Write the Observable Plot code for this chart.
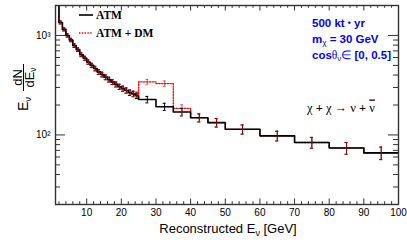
<!DOCTYPE html>
<html><head><meta charset="utf-8">
<script src="https://cdn.jsdelivr.net/npm/d3@7"></script>
<script src="https://cdn.jsdelivr.net/npm/@observablehq/plot@0.6"></script>
<style>body{margin:0;background:#fff;} svg{display:block;}</style>
</head><body><div id="chart"></div>
<script>
// Bin edges (GeV)
const binEdges = [1,2,3,4,5,6,7,8,9,10,11,12,13,14,15,16,17,18,19,20,21,22,23,24,25,30,35,40,45,50,60,70,80,90,100];
// ATM only
const atmValues = [2300,1350,1150,1000,900,790,720,640,590,540,500,465,430,405,380,360,340,322,305,292,280,266,258,248,227,192,170,149,133,114,98,84,74,66];
const atmErrors = [60,45,40,38,35,32,30,28,27,26,25,24,23,22,21,20,19,18.5,18,17.5,17,16.5,16,16,17,16,15,14,13,12,11,10.5,10,9.5];
// ATM + DM
const dmValues = [2300,1350,1150,1000,900,790,720,640,590,540,500,465,430,405,380,360,340,322,305,292,280,268,262,254,341,328,185,149,133,114,98,84,74,66];
const dmErrors = [60,45,40,38,35,32,30,28,27,26,25,24,23,22,21,20,19,18.5,18,17.5,17,16.5,16.5,16.5,21,21,16,14,13,12,11,10.5,10,9.5];

const xTicks = [10,20,30,40,50,60,70,80,90,100];
const xMinorTicks = [2,4,6,8,12,14,16,18,22,24,26,28,32,34,36,38,42,44,46,48,52,54,56,58,62,64,66,68,72,74,76,78,82,84,86,88,92,94,96,98];
const yTicks = [100,1000];
const yTickLabels = ["10²","10³"];
const yMinorTicks = [30,40,50,60,70,80,90,200,300,400,500,600,700,800,900];

const steps = vals => vals.flatMap((v,i)=>[{x:binEdges[i],y:v},{x:binEdges[i+1],y:v}]);
const bars = (vals,errs) => vals.map((v,i)=>({x:(binEdges[i]+binEdges[i+1])/2,y:v,lo:v-errs[i],hi:v+errs[i]}));
const atmBars = bars(atmValues, atmErrors);
const dmBars = bars(dmValues, dmErrors);
const YMIN = 20, YMAX = 2000, XMIN = 1, XMAX = 100;

const errMarks = (data, color, op) => [
  Plot.ruleX(data, {x:"x", y1:"lo", y2:"hi", stroke:color, strokeOpacity:op, strokeWidth:1, clip:true}),
  Plot.ruleY(data, {y:"lo", x1:"x", x2:"x", insetLeft:-1.5, insetRight:-1.5, stroke:color, strokeOpacity:op, strokeWidth:1, clip:true}),
  Plot.ruleY(data, {y:"hi", x1:"x", x2:"x", insetLeft:-1.5, insetRight:-1.5, stroke:color, strokeOpacity:op, strokeWidth:1, clip:true})
];

const plot = Plot.plot({
  width: 407, height: 243,
  marginLeft: 55, marginRight: 9, marginTop: 5, marginBottom: 39,
  x: {domain: [XMIN, XMAX]},
  y: {type: "log", domain: [YMIN, YMAX]},
  style: {fontFamily: "'Liberation Sans', Arial, sans-serif", fontSize: "10px", color: "#000", background: "#fff"},
  marks: [
    Plot.line(steps(dmValues), {x:"x", y:"y", stroke:"#ff0000", strokeWidth:1.3, strokeDasharray:"1.4,1.4", clip:true}),
    Plot.line(steps(atmValues), {x:"x", y:"y", stroke:"#000", strokeWidth:1.6, clip:true}),
    ...errMarks(atmBars, "#000", 1),
    ...errMarks(dmBars, "#e00000", 0.6),
    // ticks (inward)
    Plot.ruleX(xTicks, {x:d=>d, y1:()=>YMIN, y2:()=>YMIN, insetBottom:5.5, stroke:"#333"}),
    Plot.ruleX(xMinorTicks, {x:d=>d, y1:()=>YMIN, y2:()=>YMIN, insetBottom:2.8, stroke:"#333"}),
    Plot.ruleX(xTicks, {x:d=>d, y1:()=>YMAX, y2:()=>YMAX, insetTop:5.5, stroke:"#333"}),
    Plot.ruleX(xMinorTicks, {x:d=>d, y1:()=>YMAX, y2:()=>YMAX, insetTop:2.8, stroke:"#333"}),
    Plot.ruleY(yTicks, {y:d=>d, x1:()=>XMIN, x2:()=>XMIN, insetRight:-10, stroke:"#333"}),
    Plot.ruleY(yMinorTicks, {y:d=>d, x1:()=>XMIN, x2:()=>XMIN, insetRight:-5, stroke:"#333"}),
    Plot.ruleY(yTicks, {y:d=>d, x1:()=>XMAX, x2:()=>XMAX, insetLeft:-10, stroke:"#333"}),
    Plot.ruleY(yMinorTicks, {y:d=>d, x1:()=>XMAX, x2:()=>XMAX, insetLeft:-5, stroke:"#333"}),
    Plot.axisX({ticks: xTicks, tickSize: 0, tickPadding: 4, fontSize: 10, label: null}),
    Plot.axisY({ticks: yTicks, tickSize: 0, tickPadding: 5, fontSize: 10, label: null,
      tickFormat: d => yTickLabels[yTicks.indexOf(d)]}),
    Plot.frame({stroke: "#333", strokeWidth: 1.4})
  ]
});
document.getElementById("chart").appendChild(plot);

const svg = d3.select(plot);
const sans = "'Liberation Sans', Arial, sans-serif";
const serif = "'Liberation Serif', 'Times New Roman', serif";

// X title
const xt = svg.append("text").attr("x", 228).attr("y", 233).attr("text-anchor","middle")
  .attr("font-family", sans).attr("font-size", 13).attr("fill","#000");
xt.append("tspan").text("Reconstructed E");
xt.append("tspan").attr("font-size", 9).attr("dy", 2.5).text("ν");
xt.append("tspan").attr("dy", -2.5).text(" [GeV]");

// Y title (rotated)
const yt = svg.append("g").attr("transform","translate(23.5,85) rotate(-90)")
  .attr("font-family", sans).attr("fill","#000");
const e1 = yt.append("text").attr("x",-26).attr("y",4.5).attr("font-size",14).attr("text-anchor","start");
e1.append("tspan").text("E");
e1.append("tspan").attr("font-size",9.5).attr("dy",2.5).text("ν");
yt.append("text").attr("x",7.5).attr("y",-1.5).attr("text-anchor","middle").attr("font-size",13).text("dN");
yt.append("line").attr("x1",-6).attr("x2",21).attr("y1",0).attr("y2",0).attr("stroke","#000").attr("stroke-width",1);
const den = yt.append("text").attr("x",7.5).attr("y",10.5).attr("text-anchor","middle").attr("font-size",13);
den.append("tspan").text("dE");
den.append("tspan").attr("font-size",8.5).attr("dy",2).text("ν");

// Legend
const lg = svg.append("g").attr("text-anchor","start");
lg.append("line").attr("x1",79).attr("x2",93).attr("y1",15).attr("y2",15).attr("stroke","#000").attr("stroke-width",1.6);
lg.append("text").attr("x",96).attr("y",19).attr("font-family",serif).attr("font-weight","bold").attr("font-size",11.5).text("ATM");
lg.append("line").attr("x1",79).attr("x2",93).attr("y1",33).attr("y2",33).attr("stroke","#ff0000").attr("stroke-width",1.3).attr("stroke-dasharray","1.4,1.4");
lg.append("text").attr("x",96).attr("y",37).attr("font-family",serif).attr("font-weight","bold").attr("font-size",11.5).text("ATM + DM");

// Info text
const info = svg.append("g").attr("text-anchor","start").attr("font-family",sans).attr("font-weight","bold").attr("font-size",11.5).attr("fill","#0000ff");
const t1 = info.append("text").attr("x",312).attr("y",27);
t1.append("tspan").text("500 kt ");
t1.append("tspan").attr("font-size",8.5).attr("dy",-1).text("•");
t1.append("tspan").attr("dy",1).text(" yr");
const t2 = info.append("text").attr("x",312).attr("y",42.5);
t2.append("tspan").text("m");
t2.append("tspan").attr("font-size",8).attr("font-weight","normal").attr("dy",2.5).text("χ");
t2.append("tspan").attr("dy",-2.5).text(" = 30 GeV");
const t3 = info.append("text").attr("x",312).attr("y",58.5);
t3.append("tspan").text("cos");
t3.append("tspan").attr("font-weight","normal").attr("font-family",serif).text("θ");
t3.append("tspan").attr("font-size",8).attr("font-weight","normal").attr("dy",2.5).text("ν");
t3.append("tspan").attr("dy",-2.5).attr("font-weight","normal").text("∈");
t3.append("tspan").text(" [0, 0.5]");

// Reaction
const r = svg.append("text").attr("x",307).attr("y",111.5).attr("text-anchor","start").attr("font-family",serif).attr("font-size",12.5).attr("fill","#000");
r.append("tspan").text("χ ");
r.append("tspan").attr("font-weight","bold").text("+");
r.append("tspan").text(" χ → ν ");
r.append("tspan").attr("font-weight","bold").text("+");
r.append("tspan").text(" ");
r.append("tspan").attr("text-decoration","overline").text("ν");
</script>
</body></html>
